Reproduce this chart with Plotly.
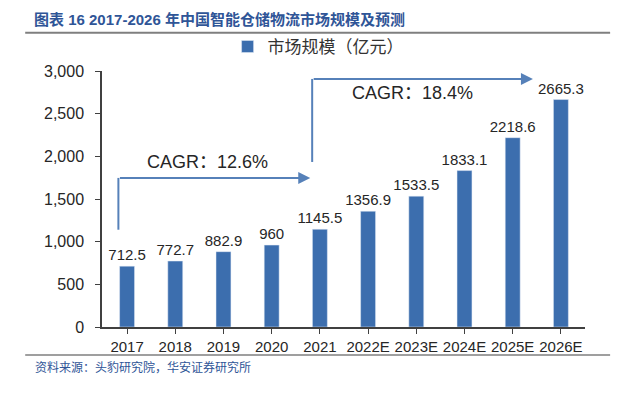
import plotly.graph_objects as go

categories = ["2017", "2018", "2019", "2020", "2021", "2022E", "2023E", "2024E", "2025E", "2026E"]
values = [712.5, 772.7, 882.9, 960, 1145.5, 1356.9, 1533.5, 1833.1, 2218.6, 2665.3]
value_labels = ["712.5", "772.7", "882.9", "960", "1145.5", "1356.9", "1533.5", "1833.1", "2218.6", "2665.3"]
series_name = "市场规模（亿元）"
title_text = "图表 16 2017-2026 年中国智能仓储物流市场规模及预测"
source_text = "资料来源：头豹研究院，华安证券研究所"
cagr_texts = ["CAGR：12.6%", "CAGR：18.4%"]

# arrow geometry (data coords): vertical start y, corner y, x start, x end
arrow1 = dict(x0=-0.18, y_low=1140, y_high=1747, x1=3.80)
arrow2 = dict(x0=3.84, y_low=1934, y_high=2907, x1=8.42)
cagr_pos = [(1.66, 1934), (5.93, 2743)]

bar_color = "#3c6eae"
arrow_color = "#5681b9"
text_color = "#262626"
blue_text = "#2f5597"

x = list(range(len(categories)))

fig = go.Figure()
fig.add_trace(go.Bar(
    x=x, y=values, name=series_name, marker_color=bar_color,
    text=value_labels, textposition="outside", cliponaxis=False, constraintext="none",
    textfont=dict(size=15, color=text_color, family="Liberation Sans, Arial"),
    showlegend=True,
))

shapes = []
annotations = []
for a in (arrow1, arrow2):
    shapes.append(dict(type="line", xref="x", yref="y", x0=a["x0"], x1=a["x0"],
                       y0=a["y_low"], y1=a["y_high"], line=dict(color=arrow_color, width=2)))
    annotations.append(dict(xref="x", yref="y", axref="x", ayref="y",
                            x=a["x1"], y=a["y_high"], ax=a["x0"], ay=a["y_high"],
                            text="", showarrow=True, arrowhead=2, arrowsize=1.2,
                            arrowwidth=2, arrowcolor=arrow_color))
for (cx, cy), t in zip(cagr_pos, cagr_texts):
    annotations.append(dict(xref="x", yref="y", x=cx, y=cy, text=t, showarrow=False,
                            font=dict(size=18, color=text_color,
                                      family="Liberation Sans, Arial, Noto Sans CJK SC")))

# title, separators, source
annotations.append(dict(xref="paper", yref="paper", x=-0.145, y=1.2, xanchor="left", yanchor="middle",
                        text="<b>" + title_text + "</b>", showarrow=False,
                        font=dict(size=15, color=blue_text, family="Liberation Sans, Noto Sans CJK SC")))
annotations.append(dict(xref="paper", yref="paper", x=-0.143, y=-0.156, xanchor="left", yanchor="middle",
                        text=source_text, showarrow=False,
                        font=dict(size=12, color=blue_text, family="Noto Sans CJK SC")))

shapes.append(dict(type="line", xref="paper", yref="paper", x0=-0.159, x1=1.052, y0=1.149, y1=1.149,
                   line=dict(color="#7f7f7f", width=2)))
shapes.append(dict(type="line", xref="paper", yref="paper", x0=-0.159, x1=1.052, y0=-0.109, y1=-0.109,
                   line=dict(color="#7f7f7f", width=1.5)))

# page body adds an 8px offset; margins compensate for it
fig.update_layout(
    width=632, height=406,
    margin=dict(l=94, r=55, t=63, b=87),
    paper_bgcolor="white", plot_bgcolor="white",
    bargap=0.69,
    shapes=shapes, annotations=annotations,
    legend=dict(orientation="h", x=0.26, y=1.094, xanchor="left", yanchor="middle",
                font=dict(size=17, color="#333333", family="Noto Sans CJK SC"),
                bgcolor="rgba(0,0,0,0)"),
    font=dict(family="Liberation Sans, Arial", color=text_color),
)
fig.update_xaxes(
    tickmode="array", tickvals=x, ticktext=categories, range=[-0.52, 9.5],
    showline=True, linecolor="#404040", linewidth=1.5,
    ticks="outside", tickson="boundaries", ticklen=5, tickcolor="#404040",
    tickfont=dict(size=15, color=text_color), showgrid=False, zeroline=False,
)
fig.update_yaxes(
    range=[0, 3000], tickvals=[0, 500, 1000, 1500, 2000, 2500, 3000], tickformat=",",
    showline=True, linecolor="#404040", linewidth=1.5,
    ticks="outside", ticklen=5, tickcolor="#404040", ticklabelstandoff=8,
    tickfont=dict(size=16, color=text_color), showgrid=False, zeroline=False,
)

fig.write_html("out.html")
